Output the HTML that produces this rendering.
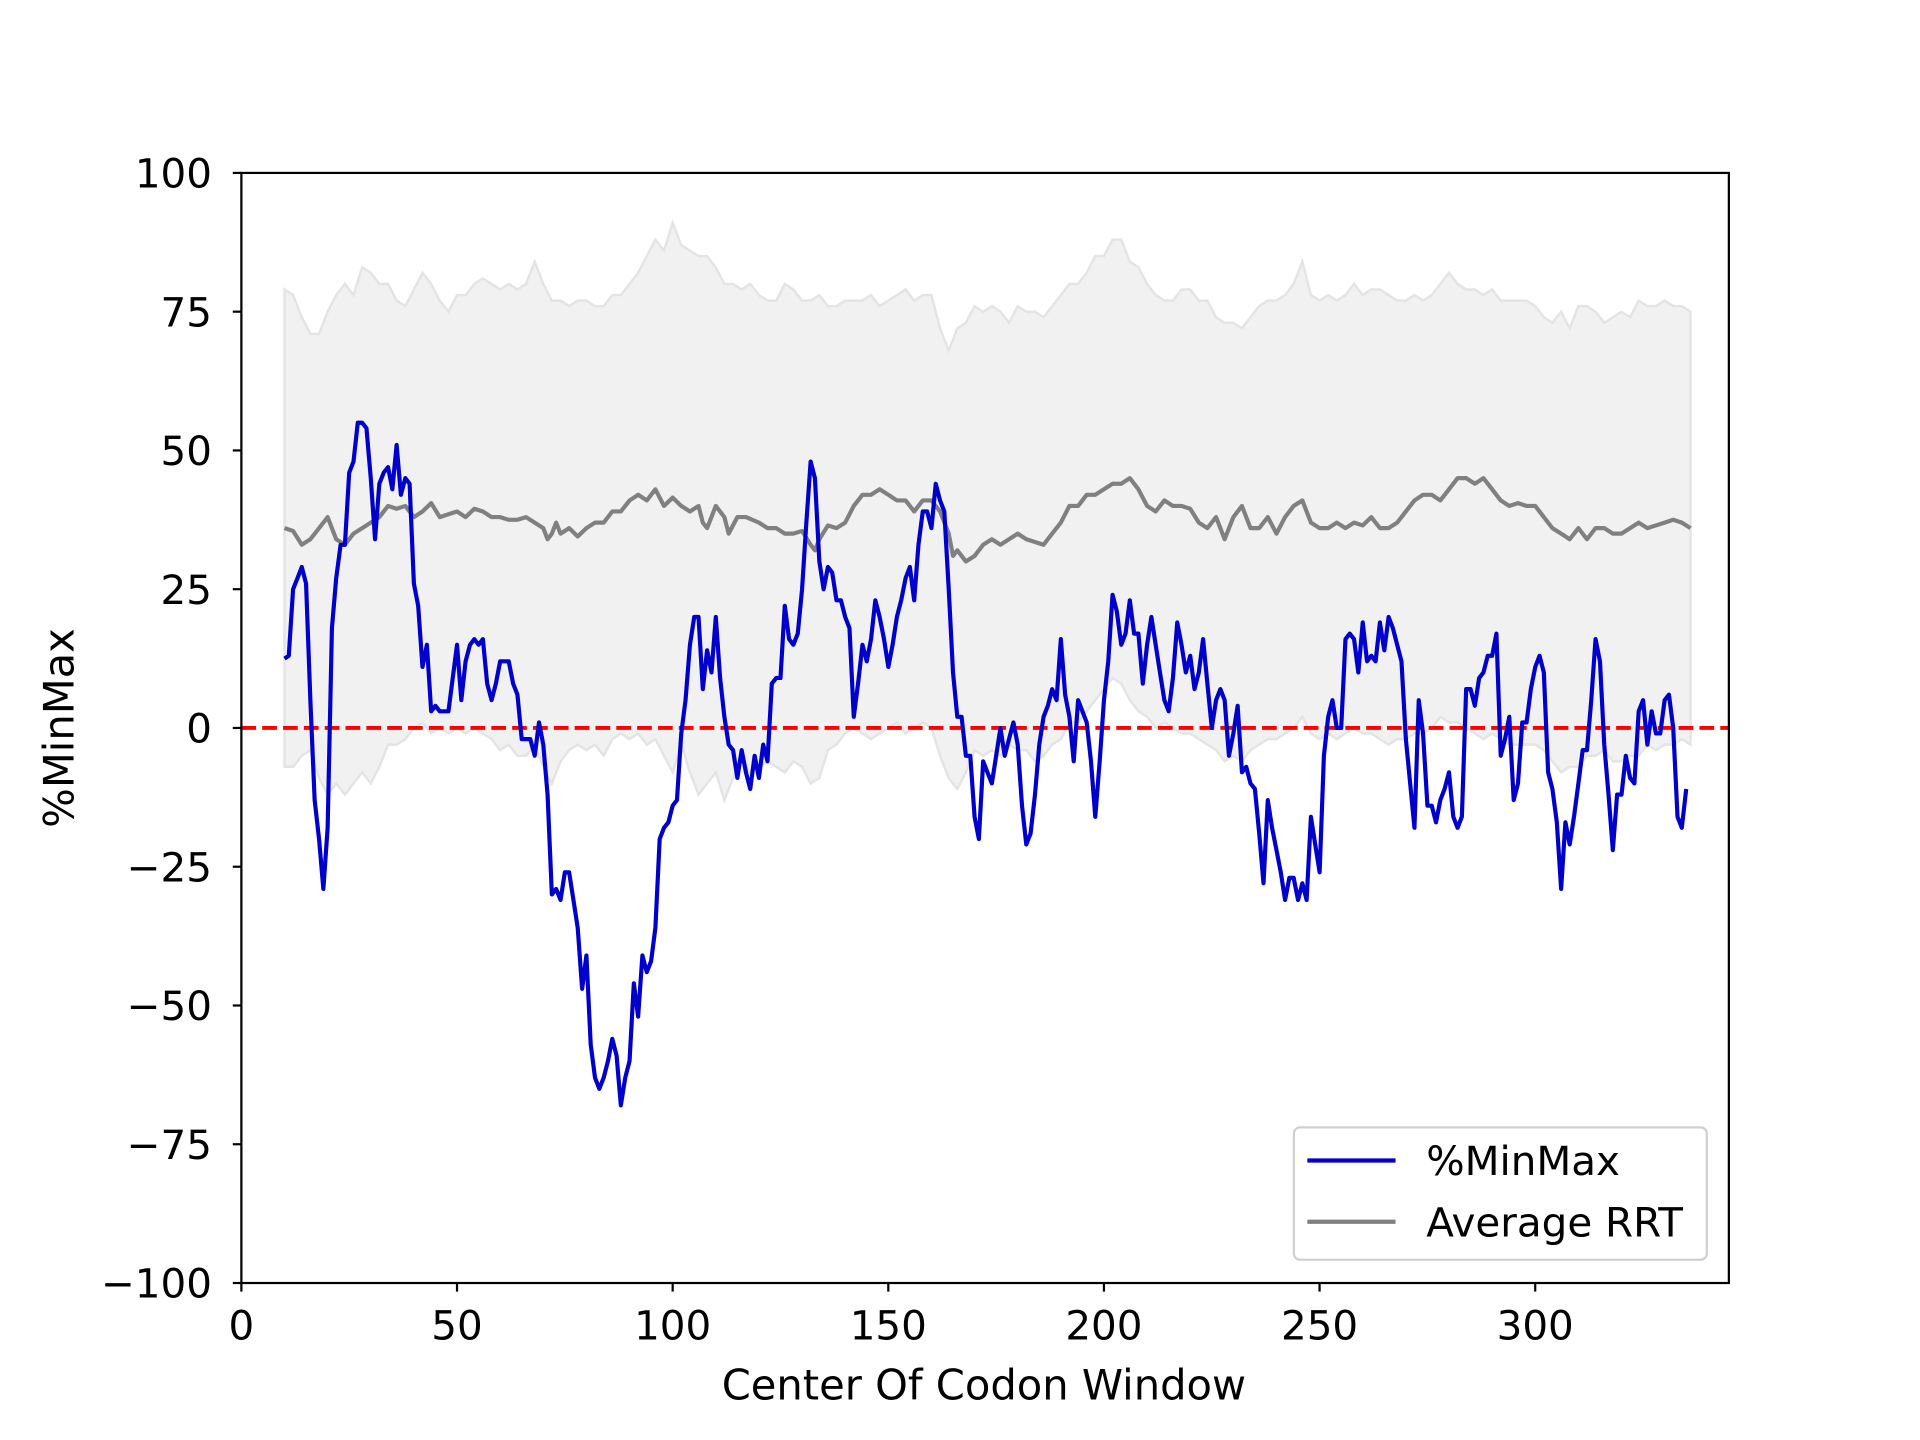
<!DOCTYPE html>
<html><head><meta charset="utf-8"><style>
html,body{margin:0;padding:0;background:#fff;}
svg{display:block;font-family:"DejaVu Sans","Liberation Sans",sans-serif;}
</style></head><body>
<svg id="chart" width="1920" height="1440" viewBox="0 0 1567 1175" xmlns="http://www.w3.org/2000/svg">
<rect x="0" y="0" width="1567" height="1175" fill="#fff"/>
<g id="plot"></g>
</svg>
<script>
const xTicks=[0,50,100,150,200,250,300];
const yTicks=[-100,-75,-50,-25,0,25,50,75,100];
const yTickLabels=["\u2212100","\u221275","\u221250","\u221225","0","25","50","75","100"];
const minmaxX=[];for(let i=10;i<=335;i++)minmaxX.push(i);
const minmaxY=[12.5,13,25,27,29,26,5,-13,-20,-29,-18,18,27,33,33,46,48,55,55,54,45,34,44,46,47,43,51,42,45,44,26,22,11,15,3,4,3,3,3,9,15,5,12,15,16,15,16,8,5,8,12,12,12,8,6,-2,-2,-2,-5,1,-3,-12,-30,-29,-31,-26,-26,-31,-36,-47,-41,-57,-63,-65,-63,-60,-56,-59,-68,-63,-60,-46,-52,-41,-44,-42,-36,-20,-18,-17,-14,-13,-1,5,15,20,20,7,14,10,20,9,2,-3,-4,-9,-4,-8,-11,-5,-9,-3,-6,8,9,9,22,16,15,17,25,37,48,45,30,25,29,28,23,23,20,18,2,8,15,12,16,23,20,16,11,15,20,23,27,29,23,33,39,39,36,44,41,39,25,10,2,2,-5,-5,-16,-20,-6,-8,-10,-5,0,-5,-2,1,-3,-14,-21,-19,-12,-3,2,4,7,5,16,6,2,-6,5,3,1,-6,-16,-6,5,12,24,21,15,17,23,17,17,8,15,20,15,10,5,3,9,19,15,10,13,7,10,16,8,0,5,7,5,-5,-1,4,-8,-7,-10,-11,-19,-28,-13,-18,-22,-26,-31,-27,-27,-31,-28,-31,-16,-21,-26,-5,2,5,0,0,16,17,16,10,19,12,13,12,19,14,20,18,15,12,-2,-10,-18,5,-1,-14,-14,-17,-13,-11,-8,-16,-18,-16,7,7,4,9,10,13,13,17,-5,-2,2,-13,-10,1,1,7,11,13,10,-8,-11,-17,-29,-17,-21,-16,-10,-4,-4,5,16,12,-3,-12,-22,-12,-12,-5,-9,-10,3,5,-3,3,-1,-1,5,6,0,-16,-18,-11];
const rrtX=[10,12,14,16,18,20,22,24,26,28,30,32,34,36,38,40,42,44,46,48,50,52,54,56,58,60,62,64,66,68,70,71,72,73,74,75,76,78,80,82,84,86,88,90,92,94,96,98,100,102,104,106,107,108,110,112,113,115,117,120,122,124,126,128,130,132,133,134,136,138,140,142,144,146,148,150,152,154,156,158,160,162,164,165,166,168,170,172,174,176,178,180,182,184,186,188,190,192,194,196,198,200,202,204,206,208,210,212,214,216,218,220,222,224,226,228,230,232,234,236,238,240,242,244,246,248,250,252,254,256,258,260,262,264,266,268,270,272,274,276,278,280,282,284,286,288,290,292,294,296,298,300,302,304,306,308,310,312,314,316,318,320,322,324,326,328,330,332,334,336];
const rrtY=[36,35.5,33,34,36,38,34,33,35,36,37,38,40,39.5,40,38,39,40.5,38,38.5,39,38,39.5,39,38,38,37.5,37.5,38,37,36,34,35,37,35,35.5,36,34.5,36,37,37,39,39,41,42,41,43,40,41.5,40,39,40,37,36,40,38,35,38,38,37,36,36,35,35,35.5,33,32,34,36.5,36,37,40,42,42,43,42,41,41,39,41,41,39,35,31,32,30,31,33,34,33,34,35,34,33.5,33,35,37,40,40,42,42,43,44,44,45,43,40,39,41,40,40,39.5,37,36,38,34,38,40,36,36,38,35,38,40,41,37,36,36,37,36,37,36.5,38,36,36,37,39,41,42,42,41,43,45,45,44,45,43,41,40,40.5,40,40,38,36,35,34,36,34,36,36,35,35,36,37,36,36.5,37,37.5,37,36];
const bandX=[10,12,14,16,18,20,22,24,26,28,30,32,34,36,38,40,42,44,46,48,50,52,54,56,58,60,62,64,66,68,70,72,74,76,78,80,82,84,86,88,90,92,94,96,98,100,102,104,106,108,110,112,114,116,118,120,122,124,126,128,130,132,134,136,138,140,142,144,146,148,150,152,154,156,158,160,162,164,166,168,170,172,174,176,178,180,182,184,186,188,190,192,194,196,198,200,202,204,206,208,210,212,214,216,218,220,222,224,226,228,230,232,234,236,238,240,242,244,246,248,250,252,254,256,258,260,262,264,266,268,270,272,274,276,278,280,282,284,286,288,290,292,294,296,298,300,302,304,306,308,310,312,314,316,318,320,322,324,326,328,330,332,334,336];
const bandUpper=[79,78,74,71,71,75,78,80,78,83,82,80,80,77,76,79,82,80,77,75,78,78,80,81,80,79,80,79,80,84,80,77,77,76,77,77,76,76,78,78,80,82,85,88,86,91,87,86,85,85,83,80,80,79,80,78,77,77,80,79,77,77,78,76,76,77,77,77,78,76,77,78,79,77,78,78,72,68,72,73,76,75,76,75,73,76,75,75,74,76,78,80,80,82,85,85,88,88,84,83,80,78,77,77,79,79,77,77,74,73,73,72,74,76,77,77,78,80,84,78,77,78,77,78,80,78,79,79,78,77,77,78,77,78,80,82,80,79,79,78,79,77,77,77,77,76,74,73,75,72,76,76,75,73,74,75,74,77,76,76,77,76,76,75];
const bandLower=[-7,-7,-5,-4,-9,-12,-10,-12,-10,-8,-10,-7,-3,-3,-2,0,1,-1,0,-1,0,-1,0,-1,-2,-4,-3,-5,-5,-3,-7,-10,-6,-4,-3,-4,-3,-5,-2,-1,-2,-1,-3,-2,-5,-8,-3,-8,-12,-10,-8,-13,-9,-6,-8,-7,-6,-7,-8,-6,-7,-10,-9,-4,-3,-1,0,-1,-2,-1,0,1,-1,0,1,0,-5,-9,-11,-8,-4,-5,-4,-5,-3,-4,-4,-6,-5,-3,-2,1,1,3,5,7,9,8,5,3,2,0,1,0,-1,-1,-2,-3,-4,-6,-5,-6,-4,-3,-2,-2,-1,0,2,-1,-2,-1,-2,-1,0,-1,-1,-2,-3,-2,-2,-1,-1,0,2,1,1,0,-1,-2,-1,-2,-3,-3,-3,-3,-4,-6,-8,-7,-7,-5,-5,-4,-6,-6,-5,-5,-3,-4,-3,-3,-2,-3,-3];

const NS="http://www.w3.org/2000/svg";
const L=197,R=1411,T=141,B=1047;
const xMin=0,xMax=344.9;
function sx(v){return L+(v-xMin)/(xMax-xMin)*(R-L);}
function sy(v){return B-(v+100)/200*(B-T);}
const g=document.getElementById('plot');
function mk(tag,attrs,parent){const e=document.createElementNS(NS,tag);for(const k in attrs)e.setAttribute(k,attrs[k]);(parent||g).appendChild(e);return e;}

let d='';
bandX.forEach((x,i)=>{d+=(i?'L':'M')+sx(x).toFixed(1)+','+sy(bandUpper[i]).toFixed(1);});
for(let i=bandX.length-1;i>=0;i--){d+='L'+sx(bandX[i]).toFixed(1)+','+sy(bandLower[i]).toFixed(1);}
d+='Z';
const band=mk('path',{d:d,fill:'#f1f1f1',stroke:'#e4e4e4','stroke-width':2});



const zl=mk('line',{x1:L,x2:R,y1:sy(0),y2:sy(0),stroke:'#ff0000','stroke-width':3.2,'stroke-dasharray':'12,5'});



let pg=rrtX.map((x,i)=>sx(x).toFixed(1)+','+sy(rrtY[i]).toFixed(1)).join(' ');
const gl=mk('polyline',{points:pg,fill:'none',stroke:'#808080','stroke-width':3.4,'stroke-linejoin':'round'});



let pb=minmaxX.map((x,i)=>sx(x).toFixed(1)+','+sy(minmaxY[i]).toFixed(1)).join(' ');
const bl=mk('polyline',{points:pb,fill:'none',stroke:'#0000cd','stroke-width':3.4,'stroke-linejoin':'round'});



const fr=mk('rect',{x:L,y:T,width:R-L,height:B-T,fill:'none',stroke:'#000','stroke-width':1.8});



xTicks.forEach(v=>{
  const t=mk('line',{x1:sx(v),x2:sx(v),y1:B,y2:B+7,stroke:'#000','stroke-width':1.8});
  
  
  const tx=mk('text',{x:sx(v),y:B+46,'text-anchor':'middle','font-size':33,fill:'#000'});
  tx.textContent=v;
  
  
});
yTicks.forEach((v,i)=>{
  const t=mk('line',{x1:L-7,x2:L,y1:sy(v),y2:sy(v),stroke:'#000','stroke-width':1.8});
  
  
  const tx=mk('text',{x:L-24,y:sy(v)+12,'text-anchor':'end','font-size':33,fill:'#000'});
  tx.textContent=yTickLabels[i];
  
  
});
const xl=mk('text',{x:803,y:1142,'text-anchor':'middle','font-size':34,fill:'#000'});
xl.textContent='Center Of Codon Window';


const yl=mk('text',{x:0,y:0,'text-anchor':'middle','font-size':34,fill:'#000',transform:'translate(60,'+((T+B)/2)+') rotate(-90)'});
yl.textContent='%MinMax';



const lg=mk('g',{});


const lb=mk('rect',{x:1056,y:920,width:337,height:108,rx:5,fill:'#fff','fill-opacity':0.8,stroke:'#d0d0d0','stroke-width':1.8},lg);


const entries=[['%MinMax','#0000cd',947],['Average RRT','#808080',997]];
entries.forEach(e=>{
  const ln=mk('line',{x1:1067,x2:1139,y1:e[2],y2:e[2],stroke:e[1],'stroke-width':3.4},lg);
  
  
  const tx=mk('text',{x:1164,y:e[2]+12,'font-size':33,fill:'#000'},lg);
  tx.textContent=e[0];
  
  
});
</script>
</body></html>
